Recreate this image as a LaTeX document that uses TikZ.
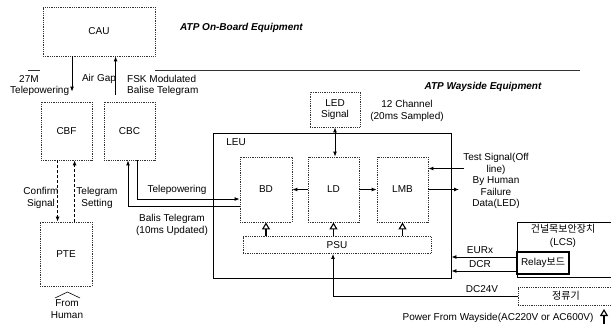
\documentclass[tikz,border=0pt]{standalone}
\usepackage{fontspec}
\setmainfont{Liberation Sans}
\newfontfamily\kor{Noto Sans CJK KR}
\usetikzlibrary{arrows.meta,calc,positioning}
\definecolor{lineGray}{HTML}{333333}
\tikzset{
  font=\fontsize{10}{11.5}\selectfont,
  arrow/.style={-{Latex[length=5pt,width=4pt]},draw=black,line width=0.9pt},
  dblarrow/.style={{Latex[length=5pt,width=4pt]}-{Latex[length=5pt,width=4pt]},draw=black,line width=0.9pt},
  dasharrow/.style={arrow,dash pattern=on 3pt off 2pt},
  hollow/.style={-{Triangle[open,length=7pt,width=8pt,line width=1.1pt]},draw=black,line width=1.6pt},
  blk/.style={rectangle,draw=lineGray,densely dotted,line width=0.8pt,align=center,inner sep=0pt},
  frame/.style={rectangle,draw=black,line width=0.9pt,inner sep=0pt,align=center},
  lbl/.style={align=center,inner sep=0pt},
  title/.style={font=\fontsize{10}{12}\selectfont\bfseries\itshape},
}

\begin{document}
\begin{tikzpicture}[x=1pt,y=-1pt]
\useasboundingbox (0,0) rectangle (611,327);

% on-board side
\node[blk,minimum width=112pt,minimum height=49pt] (cau) at (99,31.5) {CAU};
\node[title] (onboard) at (241.5,28) {ATP On-Board Equipment};

\draw[line width=0.8pt,draw=lineGray] (28,70) -- (40,70);
\draw[line width=0.8pt,draw=lineGray] (155,70) -- (580,70);
\node[title] (wayside) at (483,87) {ATP Wayside Equipment};

\node[blk,minimum width=51pt,minimum height=58pt] (cbf) at (66.5,131) {CBF};
\node[blk,minimum width=51pt,minimum height=58pt] (cbc) at (129.5,131) {CBC};
\node[blk,minimum width=52pt,minimum height=64pt] (pte) at (66,254) {PTE};

\coordinate (cbfin)  at ([xshift=5.5pt,yshift=10pt]cbf.north);
\coordinate (cbcout) at ([xshift=12pt,yshift=7pt]cbc.north west);
\draw[arrow] (cau.south -| cbfin) -- (cbfin);
\draw[arrow] (cbcout) -- (cau.south -| cbcout);

\node[lbl,anchor=west,align=left] (tp27) at (10,85.5) {\hspace*{9pt}27M\\Telepowering};
\node[lbl] (airgap) at (99,79) {Air Gap};
\node[lbl,anchor=west,align=left] (fsk) at (127,85.5) {FSK Modulated\\Balise Telegram};

\draw[dasharrow] ([xshift=17pt]cbf.south west) -- ([xshift=18pt]pte.north west);
\draw[dasharrow] ([xshift=35pt]pte.north west) -- ([xshift=34pt]cbf.south west);
\node[lbl] (confirm) at (41,198) {Confirm\\Signal};
\node[lbl] (tgset) at (97,198) {Telegram\\Setting};

\draw[line width=0.6pt] (55,298) -- (67.5,292) -- (80,298);
\node[lbl] (human) at (67,309) {From\\Human};

% wayside side
\node[frame,minimum width=238pt,minimum height=145pt] (leu) at (332,205.5) {};
\node[lbl] (leutext) at (236,142) {LEU};

\node[blk,minimum width=52pt,minimum height=65pt] (bd)  at (266,189.5) {BD};
\node[blk,minimum width=51pt,minimum height=65pt] (ld)  at (333.5,189.5) {LD};
\node[blk,minimum width=51pt,minimum height=65pt] (lmb) at (402.5,189.5) {LMB};
\node[blk,minimum width=188pt,minimum height=17pt] (psu) at (337,245) {PSU};
\node[blk,minimum width=50pt,minimum height=35pt] (led) at (335,109.5) {LED\\Signal};

\draw[arrow] ([xshift=7.5pt]cbc.south) |- ([yshift=-9.5pt]bd.west);
\draw[arrow] ([yshift=-16.5pt]bd.west) -| ([xshift=-1.5pt]cbc.south);
\node[lbl] (telepow) at (177,190) {Telepowering};
\node[lbl] (balis) at (172,225) {Balis Telegram\\(10ms Updated)};

\draw[arrow] (ld.west) -- (bd.east);
\draw[arrow] (ld.east) -- (lmb.west);
\draw[dblarrow] (led.south) -- (led.south |- ld.north);
\node[lbl] (channel) at (407,111) {12 Channel\\(20ms Sampled)};

\foreach \b in {bd,ld,lmb}
  \draw[hollow] (psu.north -| \b) -- (\b.south);

\coordinate (faildata) at (459,189.5);
\coordinate (testin) at (464,168.5);
\draw[arrow] (lmb.east) -- (faildata);
\draw[arrow] (testin) -- (testin -| lmb.east);
\node[lbl] (testsig) at (496,181) {Test Signal(Off\\line)\\By Human\\Failure\\Data(LED)};

\node[frame,minimum width=100pt,minimum height=55pt] (lcs) at (567,249.5) {};
\node[lbl] (lcsname) at (563,236) {{\kor 건널목보안장치}\\[1pt](LCS)};
\node[frame,line width=1.1pt,fill=white,minimum width=52pt,minimum height=22pt] (relay) at (543,263) {Relay{\kor 보드}};
\node[blk,minimum width=96pt,minimum height=18pt] (rect) at (566,296) {{\kor 정류기}};

\draw[arrow] ([yshift=6pt]relay.west) -- ([yshift=6pt]relay.west -| leu.east);
\draw[arrow] ([yshift=-8pt]relay.west) -- ([yshift=-8pt]relay.west -| leu.east);
\node[lbl] (eurx) at (480,250) {EURx};
\node[lbl] (dcr) at (480,264) {DCR};

\draw[arrow] (rect.west) -| ([xshift=-4pt]psu.south);
\node[lbl] (dc24) at (482,289) {DC24V};

\coordinate (acin) at (604,324);
\draw[hollow] (acin) -- ++(0,-15);
\node[lbl] (power) at (498,318) {Power From Wayside(AC220V or AC600V)};

\end{tikzpicture}
\end{document}
